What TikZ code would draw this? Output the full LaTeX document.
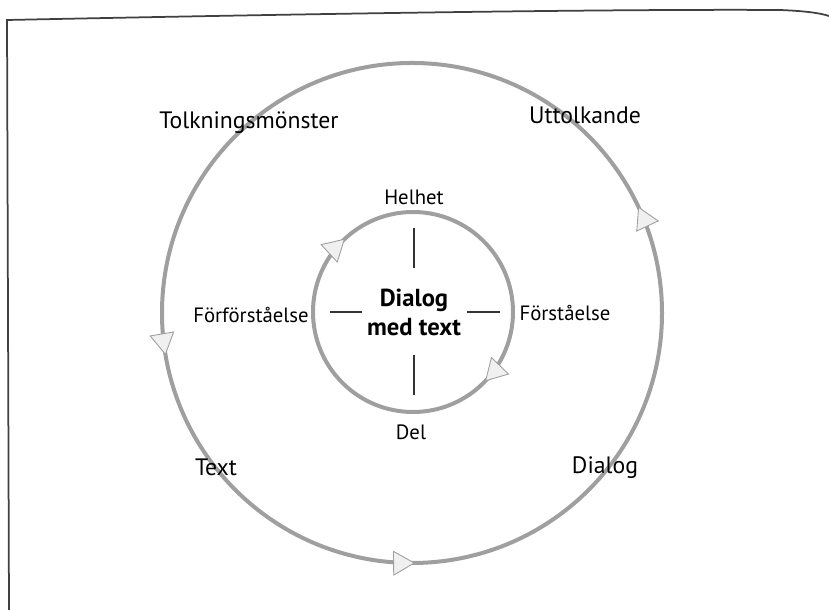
\documentclass[tikz,border=0pt]{standalone}
\usepackage{fontspec}
\setmainfont{PT Sans}
\usetikzlibrary{arrows.meta, decorations.markings}

\begin{document}
\begin{tikzpicture}[
    x=0.2mm, y=0.2mm,
    >={Triangle[length=4.4mm, width=5mm, fill=gray!12, line width=0.5pt]},
    ring/.style={draw=gray!75, line width=0.8mm, postaction={decorate}},
    lbl/.style={font=\fontsize{13.5}{16}\selectfont, inner sep=1pt},
    inlbl/.style={font=\fontsize{11.8}{14}\selectfont, inner sep=1pt},
    core/.style={font=\fontsize{14}{16.5}\selectfont\bfseries, align=center, inner sep=1pt},
    tick/.style={draw=black!80, line width=0.3mm},
    frame/.style={draw=black!75, line width=0.35mm}
]
\useasboundingbox (0,0) rectangle (829,610);

% scanned page border
\draw[frame] (9,0) -- (7,590) .. controls (300,596) and (600,601) .. (780,600) .. controls (805,599) and (820,597) .. (829,594);

\coordinate (outer) at (412,297);
\coordinate (inner) at (413,298);

% outer circle, counter clockwise
\path[ring, decoration={markings,
    mark=at position 0.070 with {\arrow{>}},
    mark=at position 0.527 with {\arrow{>}},
    mark=at position 0.752 with {\arrow{>}}}]
    (outer) circle [radius=50mm];

% inner circle, clockwise
\path[ring, decoration={markings,
    mark=at position 0.369 with {\arrowreversed{>}},
    mark=at position 0.878 with {\arrowreversed{>}}}]
    (inner) circle [radius=20mm];

\node[core] (mid) at (414,298) {Dialog\\med text};

\node[inlbl] (whole) at (414,413) {Helhet};
\node[inlbl] (part)  at (411,178) {Del};
\node[inlbl] (pre)   at (251,295) {Förförståelse};
\node[inlbl] (under) at (565,297) {Förståelse};

\node[lbl] (pattern) at (249,487) {Tolkningsmönster};
\node[lbl] (interp)  at (585,495) {Uttolkande};
\node[lbl] (txt)     at (216,143) {Text};
\node[lbl] (dialog)  at (605,142) {Dialog};

\draw[tick] (mid) ++(90:44) -- ++(90:40);
\draw[tick] (mid) ++(-90:43) -- ++(-90:40);
\draw[tick] (mid) ++(180:52) -- ++(180:32);
\draw[tick] (mid) ++(0:53) -- ++(0:33);
\end{tikzpicture}
\end{document}
